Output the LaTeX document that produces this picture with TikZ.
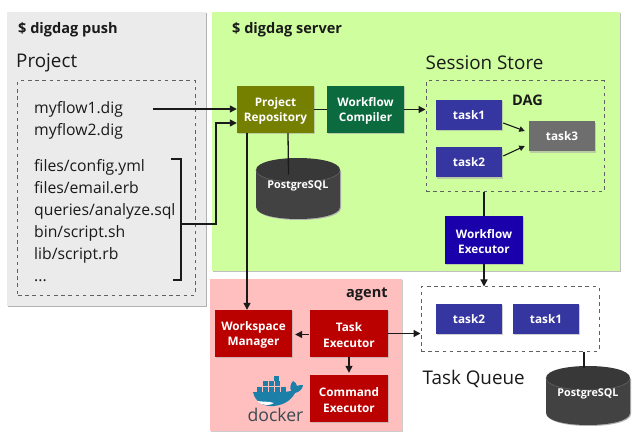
\documentclass[tikz,border=0pt]{standalone}
\usepackage{fontspec}
\setmainfont{Open Sans}
\usetikzlibrary{arrows.meta,calc}
\definecolor{graypanel}{HTML}{EBEBEB}
\definecolor{greenpanel}{HTML}{CFFE9F}
\definecolor{pinkpanel}{HTML}{FFBFBF}
\definecolor{olivebox}{HTML}{757F00}
\definecolor{greenbox}{HTML}{0B6B3F}
\definecolor{taskblue}{HTML}{3636A0}
\definecolor{execblue}{HTML}{1A00AA}
\definecolor{redbox}{HTML}{BB0000}
\definecolor{graybox}{HTML}{6E6E6E}
\definecolor{ink}{HTML}{1A1A1A}
\definecolor{dockerblue}{HTML}{1B7FA8}
\definecolor{dockerdark}{HTML}{3A4A50}
\tikzset{
  x=1bp,y=-1bp,
  shadowed/.style={preaction={draw=none,fill=black!35,opacity=.55,transform canvas={shift={(1.2bp,-1.4bp)}}}},
  box/.style n args={3}{rectangle,fill=#1,text=white,font=\fontsize{11.8}{15.7}\selectfont\bfseries,
     minimum width=#2,minimum height=#3,inner sep=0pt,shadowed},
  dashbox/.style={draw=black!62,line width=1bp,dash pattern=on 3.6bp off 3.6bp},
  conn/.style={draw=ink,line width=1.3bp},
  arr/.style={conn,-{Triangle[length=7bp,width=7bp]}},
  arrs/.style={draw=ink,line width=1.1bp,-{Triangle[length=5.5bp,width=5.5bp]}},
  big/.style={font=\fontsize{18.9}{22}\selectfont,text=ink,inner sep=0pt,anchor=west},
  file/.style={font=\fontsize{15.8}{18}\selectfont,text=ink,inner sep=0pt,anchor=base west},
  head/.style={font=\fontsize{14.6}{17}\selectfont\bfseries,text=ink,inner sep=0pt,anchor=west},
  cyl/.style={text=white,font=\fontsize{10.8}{13}\selectfont\bfseries,inner sep=0pt},
}
\newcommand{\twolines}[2]{\vbox{\kern3bp\halign{\hfil##\hfil\cr #1\cr #2\cr}}}
\newcommand{\pgcyl}[5]{% name, cx, top y, rx, body height
  \fill[black!30] (#2-#4+1,#3+13) -- (#2-#4+1,#3+#5+1) .. controls (#2-#4+1,#3+#5+17) and (#2+#4+1,#3+#5+17) .. (#2+#4+1,#3+#5+1) -- (#2+#4+1,#3+13) -- cycle;
  \fill[black!74] (#2-#4,#3+12) -- (#2-#4,#3+#5) .. controls (#2-#4,#3+#5+16) and (#2+#4,#3+#5+16) .. (#2+#4,#3+#5) -- (#2+#4,#3+12) -- cycle;
  \fill[black!78] (#2-#4,#3+12) .. controls (#2-#4,#3-4) and (#2+#4,#3-4) .. (#2+#4,#3+12) .. controls (#2+#4,#3+28) and (#2-#4,#3+28) .. (#2-#4,#3+12) -- cycle;
  \draw[black!62,line width=.6bp] (#2-#4,#3+12) .. controls (#2-#4,#3+28) and (#2+#4,#3+28) .. (#2+#4,#3+12);
  \node[cyl] (#1) at (#2,#3+28) {PostgreSQL};
}
\begin{document}
\begin{tikzpicture}
\useasboundingbox (0,0) rectangle (640,438);
\fill[white] (0,0) rectangle (640,438);
% panels
\fill[black!30] (8,13) rectangle (207,307);
\fill[graypanel] (7,12) rectangle (206,306);
\fill[black!25] (213,13) rectangle (621,272);
\fill[greenpanel] (212,12) rectangle (620,271);
\fill[black!20] (211,280) rectangle (403,432);
\fill[pinkpanel] (210,279) rectangle (402,431);
% headings
\node[head] (hpush) at (18,29.5) {\$ digdag push};
\node[head] (hserver) at (232,29.5) {\$ digdag server};
\node[head] (hagent) at (346,294) {agent};
\node[big] (lproject) at (16,63) {Project};
\node[big] (lsession) at (425.5,62.5) {Session Store};
\node[big] (lqueue) at (422.5,378.5) {Task Queue};
\node[head] (ldag) at (512,100.5) {DAG};
% dashed containers
\node[dashbox,rectangle,inner sep=0pt,minimum width=177bp,minimum height=214bp] (project) at (106.5,188) {};
\node[dashbox,rectangle,inner sep=0pt,minimum width=178bp,minimum height=111bp] (session) at (515,136.5) {};
\node[dashbox,rectangle,inner sep=0pt,minimum width=178bp,minimum height=64bp] (queue) at (510,319) {};
% files
\node[file] (f1) at (34,114) {myflow1.dig};
\node[file] (f2) at (34,136) {myflow2.dig};
\node[file] (f3) at (34,172) {files/config.yml};
\node[file] (f4) at (34,194) {files/email.erb};
\node[file] (f5) at (34,216) {queries/analyze.sql};
\node[file] (f6) at (34,238) {bin/script.sh};
\node[file] (f7) at (34,260) {lib/script.rb};
\node[file] (f8) at (34,282) {...};
% boxes
\node[box={olivebox}{77bp}{47bp}] (repo) at (275.5,109.5) {\twolines{Project}{Repository}};
\node[box={greenbox}{77bp}{47bp}] (compiler) at (365.5,109.5) {\twolines{Workflow}{Compiler}};
\node[box={taskblue}{66bp}{30bp}] (t1) at (469,115) {task1};
\node[box={taskblue}{66bp}{30bp}] (t2) at (469,162.5) {task2};
\node[box={graybox}{66bp}{30bp}] (t3) at (562,136.5) {task3};
\node[box={execblue}{78bp}{48bp}] (wexec) at (484,240) {\twolines{Workflow}{Executor}};
\node[box={taskblue}{66bp}{30bp}] (q2) at (469,319) {task2};
\node[box={taskblue}{66bp}{30bp}] (q1) at (546,319) {task1};
\node[box={redbox}{77bp}{47bp}] (wm) at (253.5,333.5) {\twolines{Workspace}{Manager}};
\node[box={redbox}{78bp}{47bp}] (te) at (349,333.5) {\twolines{Task}{Executor}};
\node[box={redbox}{78bp}{47bp}] (ce) at (349,398.5) {\twolines{Command}{Executor}};
% databases
\pgcyl{pga}{298}{158}{42}{49}
\pgcyl{pgb}{588}{366}{42}{47}
% docker logo
\begin{scope}
\fill[dockerblue] (253,392) .. controls (255,402) and (264,407) .. (274,406) .. controls (285,405) and (292,399) .. (295,393) .. controls (300,392) and (303,388) .. (303,385) .. controls (301,385) and (299,385) .. (297,386) .. controls (297,384) and (295,382) .. (293,381) .. controls (290,384) and (290,388) .. (291,391) .. controls (280,393) and (265,392) .. (253,392) -- cycle;
\fill[white] (257,401) .. controls (262,406) and (270,406) .. (274,403) .. controls (268,401) and (262,402) .. (257,401) -- cycle;
\foreach \bx/\by in {257/386.5,263/386.5,269/386.5,275/386.5,281/386.5,263/381,269/381,275/381,274/376}
  {\fill[dockerblue] (\bx,\by) rectangle ++(5.4,5);}
\node[inner sep=0pt,text=dockerdark,font=\fontsize{17.7}{18}\selectfont] (dock) at (275.5,414.5) {docker};
\end{scope}
% helper points
\coordinate (brtop) at (171,159);
\coordinate (brbot) at (173,280);
\coordinate (brmid) at (181,224);
\coordinate (brout) at (216,224);
\coordinate (flowout) at (153,109);
% connectors
\draw[arr] (flowout) -- (flowout -| repo.west);
\draw[conn] (brtop) -| (brmid) |- (brbot);
\draw[arr] (brmid) -- (brout) |- ($(repo.west)+(0,13.5)$);
\draw[arr] ($(repo.south)+(-28.5,0)$) -- ($(wm.north)+(-6.5,0)$);
\draw[conn] ($(repo.south)+(12.5,0)$) -- ($(pga.north)+(-9.5,-6)$);
\draw[conn] (repo.east) -- (compiler.west);
\draw[arr] (compiler.east) -- (compiler.east -| session.west);
\draw[arrs] ($(t1.east)+(1,8)$) -- ($(t3.west)+(-4,-5.5)$);
\draw[arrs] ($(t2.east)+(1,-6.5)$) -- ($(t3.west)+(-4,9.5)$);
\draw[conn] (session.south -| wexec.north) -- (wexec.north);
\draw[arr] (wexec.south) -- (queue.north -| wexec.south);
\draw[arr] (te.east) -- (te.east -| queue.west);
\draw[arr] ($(te.west)+(-1,1)$) -- ($(wm.east)+(3,1)$);
\draw[arr] (te.south) -- ($(ce.north)+(0,-2)$);
\draw[conn] ($(queue.south)+(74,0)$) -- ($(queue.south)+(74,16)$);
\end{tikzpicture}
\end{document}
